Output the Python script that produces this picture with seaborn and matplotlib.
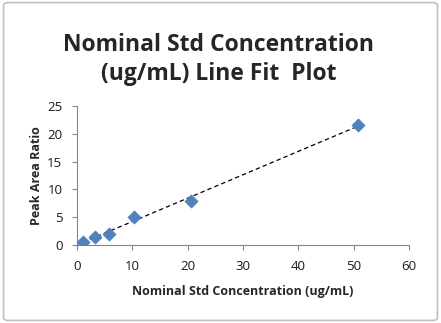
import numpy as np
import pandas as pd
import matplotlib
matplotlib.use("Agg")
import matplotlib.pyplot as plt
import seaborn as sns
from matplotlib.patches import FancyBboxPatch

# Data
conc = [1.1, 3.2, 5.8, 10.3, 20.6, 50.9]
ratio = [0.6, 1.5, 2.0, 5.1, 7.9, 21.6]
x_ticks = [0, 10, 20, 30, 40, 50, 60]
y_ticks = [0, 5, 10, 15, 20, 25]

title = "Nominal Std Concentration\n(ug/mL) Line Fit  Plot"
xlabel = "Nominal Std Concentration (ug/mL)"
ylabel = "Peak Area Ratio"

sns.set_theme(style="white")
plt.rcParams['font.family'] = ['Open Sans', 'DejaVu Sans']

df = pd.DataFrame({"x": conc, "y": ratio})
slope, intercept = np.polyfit(df["x"], df["y"], 1)
fit = pd.DataFrame({"x": [min(conc), max(conc)]})
fit["y"] = slope * fit["x"] + intercept

fig = plt.figure(figsize=(4.41, 3.23), dpi=100)
ax = fig.add_axes([0.1746, 0.2415, 0.7524, 0.4305])

sns.lineplot(data=fit, x="x", y="y", ax=ax, color="black", lw=0.9,
             linestyle=(0, (3.5, 2.5)))
sns.scatterplot(data=df, x="x", y="y", ax=ax, marker="D", s=45,
                color="#4F81BD", edgecolor="#4F81BD", linewidth=0.5, zorder=3)

ax.set_xlim(0, 60)
ax.set_ylim(0, 25)
ax.set_xticks(x_ticks)
ax.set_yticks(y_ticks)
ax.tick_params(axis="both", labelsize=9.5, length=3.5, width=0.8,
               direction="out", color="#868686", labelcolor="#1a1a1a")
ax.tick_params(axis="x", pad=7)
ax.tick_params(axis="y", pad=7)
ax.tick_params(bottom=True, left=True)
for s in ["top", "right"]:
    ax.spines[s].set_visible(False)
for s in ["left", "bottom"]:
    ax.spines[s].set_color("#868686")
    ax.spines[s].set_linewidth(0.8)

ax.set_xlabel(xlabel, fontsize=9, fontweight="bold", labelpad=9)
ax.set_ylabel(ylabel, fontsize=9, fontweight="bold", labelpad=3)

fig.text(0.495, 0.816, title, ha="center", va="center", fontsize=16.5,
         fontweight="bold", linespacing=1.25)

border = FancyBboxPatch((0.008, 0.008), 0.984, 0.984,
                        boxstyle="round,pad=0,rounding_size=0.01",
                        transform=fig.transFigure, fill=False,
                        edgecolor="#BFBFBF", lw=1.2)
fig.patches.append(border)

fig.savefig("out.png", dpi=100, facecolor="white")
